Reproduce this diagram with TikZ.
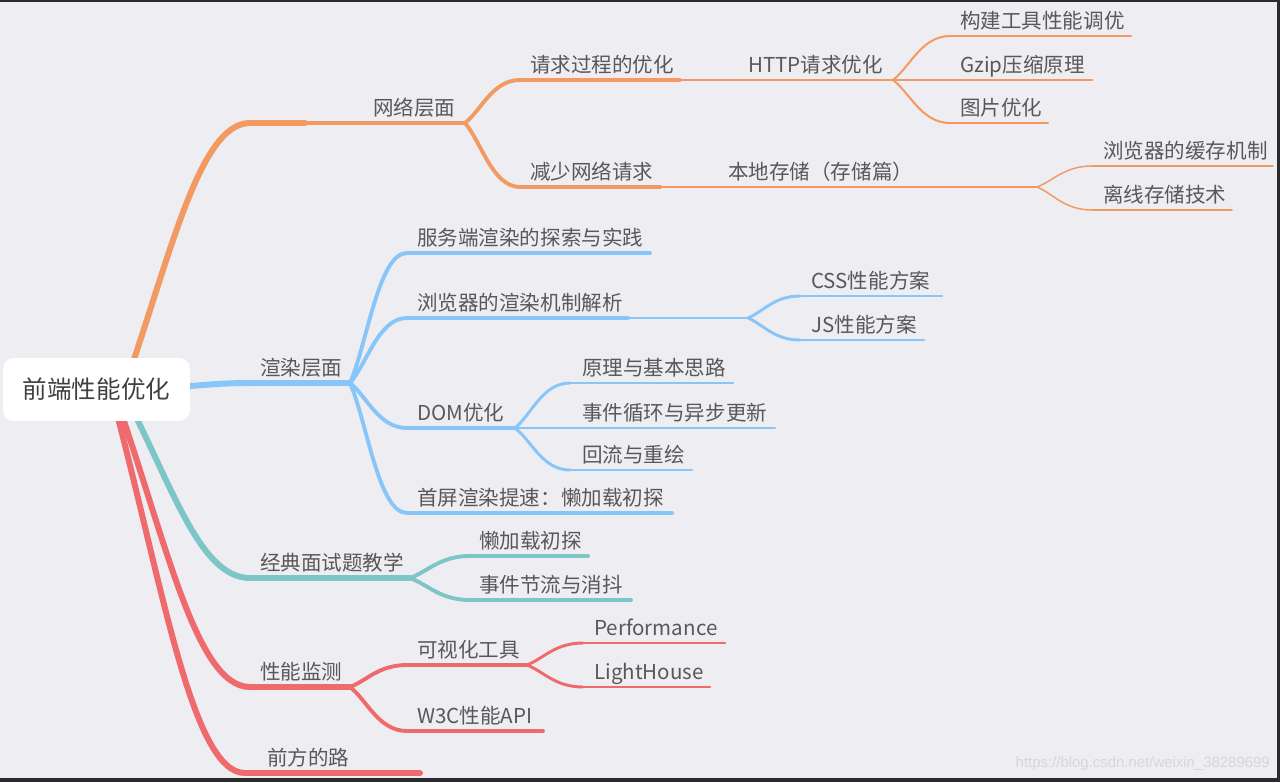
\documentclass[tikz,border=0pt]{standalone}
\usepackage{fontspec}
\setmainfont{Noto Sans CJK SC}
\newfontfamily\wmfont{Liberation Sans}
\usetikzlibrary{calc}
\pgfdeclarelayer{bglayer}
\pgfdeclarelayer{linelayer}
\pgfsetlayers{bglayer,linelayer,main}
\definecolor{bgc}{HTML}{EEEDF2}
\definecolor{orgc}{HTML}{F29A62}
\definecolor{bluc}{HTML}{88C6FA}
\definecolor{teac}{HTML}{7DC6C8}
\definecolor{rdc}{HTML}{EE6A6D}
\definecolor{txtc}{HTML}{585858}
\definecolor{roottxt}{HTML}{404040}
\definecolor{framec}{HTML}{2B2B2B}
\definecolor{wmc}{HTML}{D6D6DB}
\tikzset{
  lbl/.style={anchor=base west, inner sep=0pt, text=txtc, font=\fontsize{15.4}{18}\selectfont},
  rootbox/.style={fill=white, rounded corners=7.5pt, minimum width=140pt, minimum height=47pt, inner sep=0pt, text=roottxt, font=\fontsize{18.4}{22}\selectfont},
  lw0/.style={line width=4.5pt, line cap=round},
  lw1/.style={line width=3.2pt, line cap=round},
  lw2/.style={line width=2.9pt, line cap=round},
  lw3/.style={line width=2.2pt, line cap=round},
  lw4/.style={line width=1.5pt, line cap=round},
  lw5/.style={line width=1.1pt, line cap=round}
}
\newcommand\mmconn[3]{\draw[#1] let \p1=(#2), \p2=(#3) in (\p1) .. controls ({\x1+0.3*(\x2-\x1)},{\y1+0.3*(\y2-\y1)}) and ({\x1+0.5*(\x2-\x1)},{\y2}) .. (\p2);}
\newcommand\rtconn[3]{\draw[#1] let \p1=(#2), \p2=(#3) in (\p1) .. controls ({\x1+0.38*(\x2-\x1)},{\y1+0.5*(\y2-\y1)}) and ({\x1+0.6*(\x2-\x1)},{\y2}) .. (\p2);}
\begin{document}
\begin{tikzpicture}[x=0.75pt,y=-0.75pt]
\useasboundingbox (0,0) rectangle (1280,782);
\begin{pgfonlayer}{bglayer}
  \fill[bgc] (0,0) rectangle (1280,782);
  \fill[framec] (0,0) rectangle (1280,1.5);
  \fill[framec] (1277,0) rectangle (1280,782);
  \fill[framec] (0,778) rectangle (1280,782);
\end{pgfonlayer}

% root
\node[rootbox] (root) at (96.5,389.5) {前端性能优化};
\coordinate (r-o) at (120,400);
\coordinate (r-b) at (178,387);
\coordinate (r-t) at (125,395);
\coordinate (r-m) at (115,395);
\coordinate (r-f) at (112,395);

% level 1
\node[lbl] (n1) at (373,115) {网络层面};
\coordinate (n1-l) at (250,123); \coordinate (n1-m) at (305,123); \coordinate (n1-r) at (465,123);
\node[lbl] (n2) at (260,375) {渲染层面};
\coordinate (n2-l) at (250,383); \coordinate (n2-r) at (350,383);
\node[lbl] (n3) at (260,570) {经典面试题教学};
\coordinate (n3-l) at (250,578); \coordinate (n3-r) at (410,578);
\node[lbl] (n4) at (260,679) {性能监测};
\coordinate (n4-l) at (250,687); \coordinate (n4-r) at (350,687);
\node[lbl] (n5) at (267,765) {前方的路};
\coordinate (n5-l) at (245,773); \coordinate (n5-r) at (420,773);

% level 2
\node[lbl] (n11) at (530,72) {请求过程的优化};
\coordinate (n11-l) at (520,80); \coordinate (n11-r) at (680,80);
\node[lbl] (n12) at (530,179) {减少网络请求};
\coordinate (n12-l) at (520,187); \coordinate (n12-r) at (660,187);
\node[lbl] (n21) at (417,245) {服务端渲染的探索与实践};
\coordinate (n21-l) at (407,253); \coordinate (n21-r) at (650,253);
\node[lbl] (n22) at (417,310) {浏览器的渲染机制解析};
\coordinate (n22-l) at (407,318); \coordinate (n22-r) at (628,318); \coordinate (n22-f) at (748,318);
\node[lbl] (n23) at (417,420) {DOM优化};
\coordinate (n23-l) at (407,428); \coordinate (n23-r) at (515,428);
\node[lbl] (n24) at (417,505) {首屏渲染提速：懒加载初探};
\coordinate (n24-l) at (407,513); \coordinate (n24-r) at (672,513);
\node[lbl] (n31) at (479,548) {懒加载初探};
\coordinate (n31-l) at (470,556); \coordinate (n31-r) at (588,556);
\node[lbl] (n32) at (479,592) {事件节流与消抖};
\coordinate (n32-l) at (470,600); \coordinate (n32-r) at (631,600);
\node[lbl] (n41) at (417,657) {可视化工具};
\coordinate (n41-l) at (407,665); \coordinate (n41-r) at (527,665);
\node[lbl] (n42) at (417,723) {W3C性能API};
\coordinate (n42-l) at (407,731); \coordinate (n42-r) at (543,731);

% level 3
\node[lbl] (n111) at (748,72) {HTTP请求优化};
\coordinate (n111-r) at (893,80);
\node[lbl] (n121) at (728,179) {本地存储（存储篇）};
\coordinate (n121-r) at (920,187); \coordinate (n121-f) at (1037,187);
\node[lbl] (n221) at (811,288) {CSS性能方案};
\coordinate (n221-l) at (800,296); \coordinate (n221-r) at (942,296);
\node[lbl] (n222) at (811,332) {JS性能方案};
\coordinate (n222-l) at (800,340); \coordinate (n222-r) at (924,340);
\node[lbl] (n231) at (582,375) {原理与基本思路};
\coordinate (n231-l) at (570,383); \coordinate (n231-r) at (733,383);
\node[lbl] (n232) at (582,420) {事件循环与异步更新};
\coordinate (n232-l) at (570,428); \coordinate (n232-r) at (775,428);
\node[lbl] (n233) at (582,462) {回流与重绘};
\coordinate (n233-l) at (570,470); \coordinate (n233-r) at (692,470);
\node[lbl] (n411) at (594,635) {Performance};
\coordinate (n411-l) at (583,643); \coordinate (n411-r) at (725,643);
\node[lbl] (n412) at (594,679) {LightHouse};
\coordinate (n412-l) at (583,687); \coordinate (n412-r) at (710,687);

% level 4
\node[lbl] (a1) at (960,28) {构建工具性能调优};
\coordinate (a1-l) at (950,36); \coordinate (a1-r) at (1131,36);
\node[lbl] (a2) at (960,72) {Gzip压缩原理};
\coordinate (a2-l) at (950,80); \coordinate (a2-r) at (1092,80);
\node[lbl] (a3) at (960,115) {图片优化};
\coordinate (a3-l) at (950,123); \coordinate (a3-r) at (1048,123);
\node[lbl] (b1) at (1103,158) {浏览器的缓存机制};
\coordinate (b1-l) at (1092,166); \coordinate (b1-r) at (1273,166);
\node[lbl] (b2) at (1103,202) {离线存储技术};
\coordinate (b2-l) at (1092,210); \coordinate (b2-r) at (1232,210);

% watermark
\node[anchor=base east, inner sep=0pt, text=wmc, font=\wmfont\fontsize{11.2}{13}\selectfont] (wm) at (1270,767) {https://blog.csdn.net/weixin\_38289699};

\begin{pgfonlayer}{linelayer}
  % orange
  \rtconn{orgc,lw0}{r-o}{n1-l}
  \draw[orgc,lw0] (n1-l) -- (n1-m);
  \draw[orgc,lw1] (n1-m) -- (n1-r);
  \mmconn{orgc,lw2}{n1-r}{n11-l}
  \draw[orgc,lw2] (n11-l) -- (n11-r);
  \draw[orgc,lw3] (n11-r) -- (n111-r);
  \mmconn{orgc,lw4}{n111-r}{a1-l}
  \draw[orgc,lw4] (a1-l) -- (a1-r);
  \draw[orgc,lw4] (n111-r) -- (a2-r);
  \mmconn{orgc,lw4}{n111-r}{a3-l}
  \draw[orgc,lw4] (a3-l) -- (a3-r);
  \mmconn{orgc,lw2}{n1-r}{n12-l}
  \draw[orgc,lw2] (n12-l) -- (n12-r);
  \draw[orgc,lw3] (n12-r) -- (n121-r);
  \draw[orgc,lw5] (n121-r) -- (n121-f);
  \mmconn{orgc,lw5}{n121-f}{b1-l}
  \draw[orgc,lw5] (b1-l) -- (b1-r);
  \mmconn{orgc,lw5}{n121-f}{b2-l}
  \draw[orgc,lw5] (b2-l) -- (b2-r);
  % blue
  \rtconn{bluc,lw0}{r-b}{n2-l}
  \draw[bluc,lw0] (n2-l) -- (n2-r);
  \mmconn{bluc,lw2}{n2-r}{n21-l}
  \draw[bluc,lw2] (n21-l) -- (n21-r);
  \mmconn{bluc,lw2}{n2-r}{n22-l}
  \draw[bluc,lw2] (n22-l) -- (n22-r);
  \draw[bluc,lw3] (n22-r) -- (n22-f);
  \mmconn{bluc,lw3}{n22-f}{n221-l}
  \draw[bluc,lw3] (n221-l) -- (n221-r);
  \mmconn{bluc,lw3}{n22-f}{n222-l}
  \draw[bluc,lw3] (n222-l) -- (n222-r);
  \mmconn{bluc,lw2}{n2-r}{n23-l}
  \draw[bluc,lw2] (n23-l) -- (n23-r);
  \mmconn{bluc,lw3}{n23-r}{n231-l}
  \draw[bluc,lw3] (n231-l) -- (n231-r);
  \draw[bluc,lw3] (n23-r) -- (n232-r);
  \mmconn{bluc,lw3}{n23-r}{n233-l}
  \draw[bluc,lw3] (n233-l) -- (n233-r);
  \mmconn{bluc,lw2}{n2-r}{n24-l}
  \draw[bluc,lw2] (n24-l) -- (n24-r);
  % teal
  \rtconn{teac,lw0}{r-t}{n3-l}
  \draw[teac,lw0] (n3-l) -- (n3-r);
  \mmconn{teac,lw2}{n3-r}{n31-l}
  \draw[teac,lw2] (n31-l) -- (n31-r);
  \mmconn{teac,lw2}{n3-r}{n32-l}
  \draw[teac,lw2] (n32-l) -- (n32-r);
  % red
  \rtconn{rdc,lw0}{r-m}{n4-l}
  \draw[rdc,lw0] (n4-l) -- (n4-r);
  \mmconn{rdc,lw2}{n4-r}{n41-l}
  \draw[rdc,lw2] (n41-l) -- (n41-r);
  \mmconn{rdc,lw3}{n41-r}{n411-l}
  \draw[rdc,lw3] (n411-l) -- (n411-r);
  \mmconn{rdc,lw3}{n41-r}{n412-l}
  \draw[rdc,lw3] (n412-l) -- (n412-r);
  \mmconn{rdc,lw2}{n4-r}{n42-l}
  \draw[rdc,lw2] (n42-l) -- (n42-r);
  \rtconn{rdc,lw0}{r-f}{n5-l}
  \draw[rdc,lw0] (n5-l) -- (n5-r);
\end{pgfonlayer}
\end{tikzpicture}
\end{document}
